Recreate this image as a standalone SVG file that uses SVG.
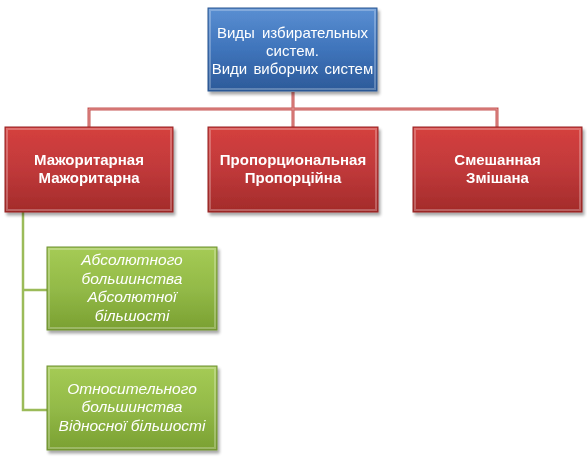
<svg xmlns="http://www.w3.org/2000/svg" width="587" height="462" viewBox="0 0 587 462">
<defs>
<linearGradient id="gBlue" x1="0" y1="0" x2="0" y2="1">
<stop offset="0" stop-color="#5a8fd2"/><stop offset="0.5" stop-color="#3f74bb"/><stop offset="1" stop-color="#2c5a99"/>
</linearGradient>
<linearGradient id="gRed" x1="0" y1="0" x2="0" y2="1">
<stop offset="0" stop-color="#d5403e"/><stop offset="0.5" stop-color="#c0393a"/><stop offset="1" stop-color="#a32b2a"/>
</linearGradient>
<linearGradient id="gGreen" x1="0" y1="0" x2="0" y2="1">
<stop offset="0" stop-color="#a5cb55"/><stop offset="0.5" stop-color="#93ba48"/><stop offset="1" stop-color="#7aa031"/>
</linearGradient>
<filter id="sh" x="-10%" y="-10%" width="125%" height="130%">
<feGaussianBlur in="SourceAlpha" stdDeviation="1.5"/>
<feOffset dx="1.5" dy="2.5" result="b"/>
<feComponentTransfer><feFuncA type="linear" slope="0.35"/></feComponentTransfer>
<feMerge><feMergeNode/><feMergeNode in="SourceGraphic"/></feMerge>
</filter>
</defs>
<style>
.conR{fill:none;stroke:#c65654;stroke-width:3}
.conRi{fill:none;stroke:#e39593;stroke-width:1}
.conG{fill:none;stroke:#9bbb59;stroke-width:2.5}
.bevel{fill:none;stroke:#ffffff;stroke-opacity:0.25;stroke-width:2}
.t{font-family:"Liberation Sans",Arial,sans-serif;fill:#ffffff;text-anchor:middle}
.tb{font-size:15px}
.tr{font-size:15px;font-weight:bold}
.tg{font-size:15.5px;font-style:italic}
</style>
<g id="connectors">
<path class="conR" d="M293 92 V127 M89 127 V109 H497 V127"/>
<path class="conRi" d="M293 92 V127 M89 127 V109 H497 V127"/>
<path class="conG" d="M23 212 V410 H47 M23 290 H47"/>
</g>
<g id="node-root" filter="url(#sh)">
<rect x="208" y="8" width="169" height="83" fill="url(#gBlue)" stroke="#2d5790" stroke-width="1"/>
<rect x="210" y="10" width="165" height="79" class="bevel"/>
<text class="t tb" x="292.5" y="38" word-spacing="3">Виды избирательных</text>
<text class="t tb" x="292.5" y="56">систем.</text>
<text class="t tb" x="292.5" y="74" word-spacing="2">Види виборчих систем</text>
</g>
<g id="node-maj" filter="url(#sh)">
<rect x="5" y="127" width="168" height="85" fill="url(#gRed)" stroke="#932625" stroke-width="1"/>
<rect x="7" y="129" width="164" height="81" class="bevel"/>
<text class="t tr" x="89" y="165">Мажоритарная</text>
<text class="t tr" x="89" y="183">Мажоритарна</text>
</g>
<g id="node-prop" filter="url(#sh)">
<rect x="208" y="127" width="170" height="85" fill="url(#gRed)" stroke="#932625" stroke-width="1"/>
<rect x="210" y="129" width="166" height="81" class="bevel"/>
<text class="t tr" x="293" y="165">Пропорциональная</text>
<text class="t tr" x="293" y="183">Пропорційна</text>
</g>
<g id="node-mix" filter="url(#sh)">
<rect x="413" y="127" width="169" height="85" fill="url(#gRed)" stroke="#932625" stroke-width="1"/>
<rect x="415" y="129" width="165" height="81" class="bevel"/>
<text class="t tr" x="497.5" y="165">Смешанная</text>
<text class="t tr" x="497.5" y="183">Змішана</text>
</g>
<g id="node-abs" filter="url(#sh)">
<rect x="47" y="247" width="170" height="83" fill="url(#gGreen)" stroke="#6f8f34" stroke-width="1"/>
<rect x="49" y="249" width="166" height="79" class="bevel"/>
<text class="t tg" x="132" y="265">Абсолютного</text>
<text class="t tg" x="132" y="284">большинства</text>
<text class="t tg" x="132" y="302">Абсолютної</text>
<text class="t tg" x="132" y="321">більшості</text>
</g>
<g id="node-rel" filter="url(#sh)">
<rect x="47" y="366" width="170" height="84" fill="url(#gGreen)" stroke="#6f8f34" stroke-width="1"/>
<rect x="49" y="368" width="166" height="80" class="bevel"/>
<text class="t tg" x="132" y="394">Относительного</text>
<text class="t tg" x="132" y="412">большинства</text>
<text class="t tg" x="132" y="431">Відносної більшості</text>
</g>
</svg>
